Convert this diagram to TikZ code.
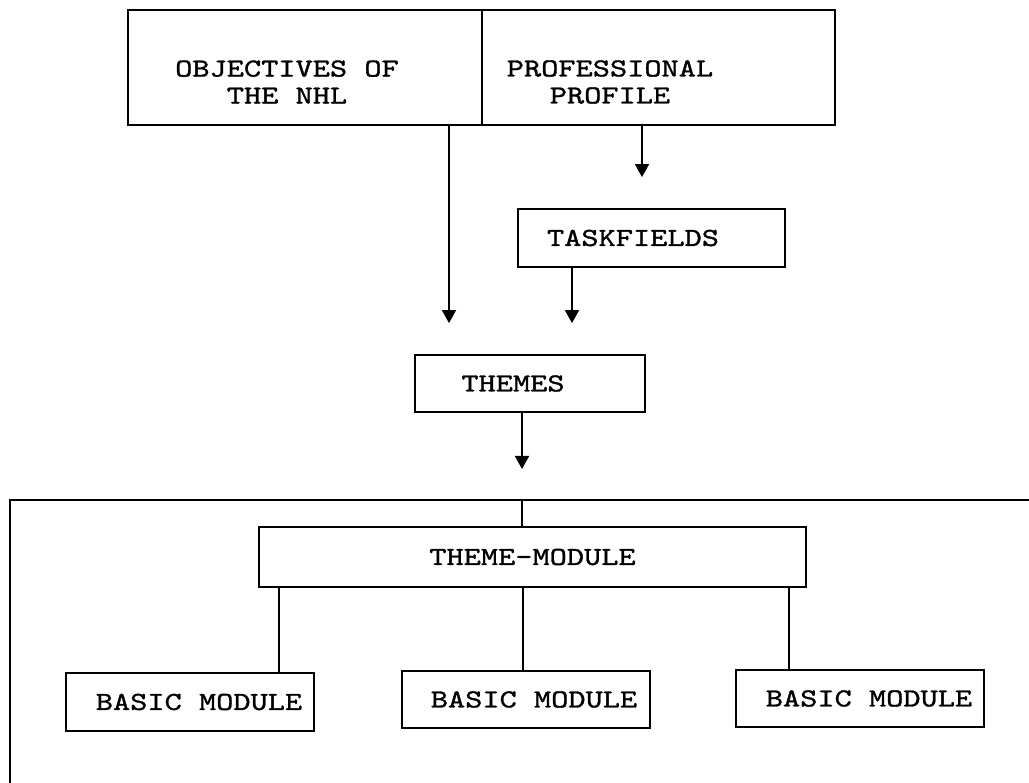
\documentclass[tikz,border=0pt]{standalone}
\usepackage{fontspec}
\usetikzlibrary{arrows.meta}
\newfontfamily\twf{lmmono10-regular.otf}[FakeBold=1.2, FakeStretch=1.26]
\begin{document}
\begin{tikzpicture}[x=1pt,y=-1pt,
  box/.style={draw=black, line width=1.8pt, inner sep=0pt},
  lbl/.style={font=\twf\fontsize{26}{27}\selectfont, inner sep=0pt, align=center},
  conn/.style={line width=1.6pt},
  arr/.style={line width=1.6pt, -{Triangle[length=13pt,width=14pt,sep=8pt]}, shorten >=23pt}]
\useasboundingbox[fill=white] (0,0) rectangle (1029,783);
% top boxes
\node[box, minimum width=354pt, minimum height=115pt,
  label={[lbl,xshift=-18pt,yshift=-14.5pt]center:{OBJECTIVES OF\\THE NHL}}] (obj) at (305,67.5) {};
\node[box, minimum width=353pt, minimum height=115pt,
  label={[lbl,xshift=-48.5pt,yshift=-14.5pt]center:{PROFESSIONAL\\PROFILE}}] (prof) at (658.5,67.5) {};
% middle
\node[box, minimum width=267pt, minimum height=58pt,
  label={[lbl,xshift=-18.5pt]center:TASKFIELDS}] (task) at (651.5,238) {};
\node[box, minimum width=230pt, minimum height=57pt,
  label={[lbl,xshift=-17pt]center:THEMES}] (themes) at (530,383.5) {};
% frame
\draw[conn, line width=1.8pt] (10,783) -- (10,500) -- (1029,500);
\coordinate (fr) at (522,500);
% lower
\node[box, minimum width=547pt, minimum height=60pt,
  label={[lbl]center:THEME-MODULE}] (tm) at (532.5,557) {};
\node[box, minimum width=248pt, minimum height=58pt,
  label={[lbl,xshift=9pt]center:BASIC MODULE}] (b1) at (190,702) {};
\node[box, minimum width=248pt, minimum height=57pt,
  label={[lbl,xshift=8pt]center:BASIC MODULE}] (b2) at (526,699.5) {};
\node[box, minimum width=248pt, minimum height=57pt,
  label={[lbl,xshift=9pt]center:BASIC MODULE}] (b3) at (860,698.5) {};
% connector x positions
\coordinate (xa) at (449,0);
\coordinate (xb) at (642,0);
\coordinate (xc) at (572,0);
\coordinate (xd) at (279,0);
\coordinate (xe) at (523,0);
\coordinate (xf) at (789,0);
% connectors
\draw[arr] (obj.south -| xa) -- (themes.north -| xa);
\draw[arr] (prof.south -| xb) -- (task.north -| xb);
\draw[arr] (task.south -| xc) -- (themes.north -| xc);
\draw[arr] (themes.south -| fr) -- (fr);
\draw[conn] (fr) -- (tm.north -| fr);
\draw[conn] (tm.south -| xd) -- (b1.north -| xd);
\draw[conn] (tm.south -| xe) -- (b2.north -| xe);
\draw[conn] (tm.south -| xf) -- (b3.north -| xf);
\end{tikzpicture}
\end{document}
